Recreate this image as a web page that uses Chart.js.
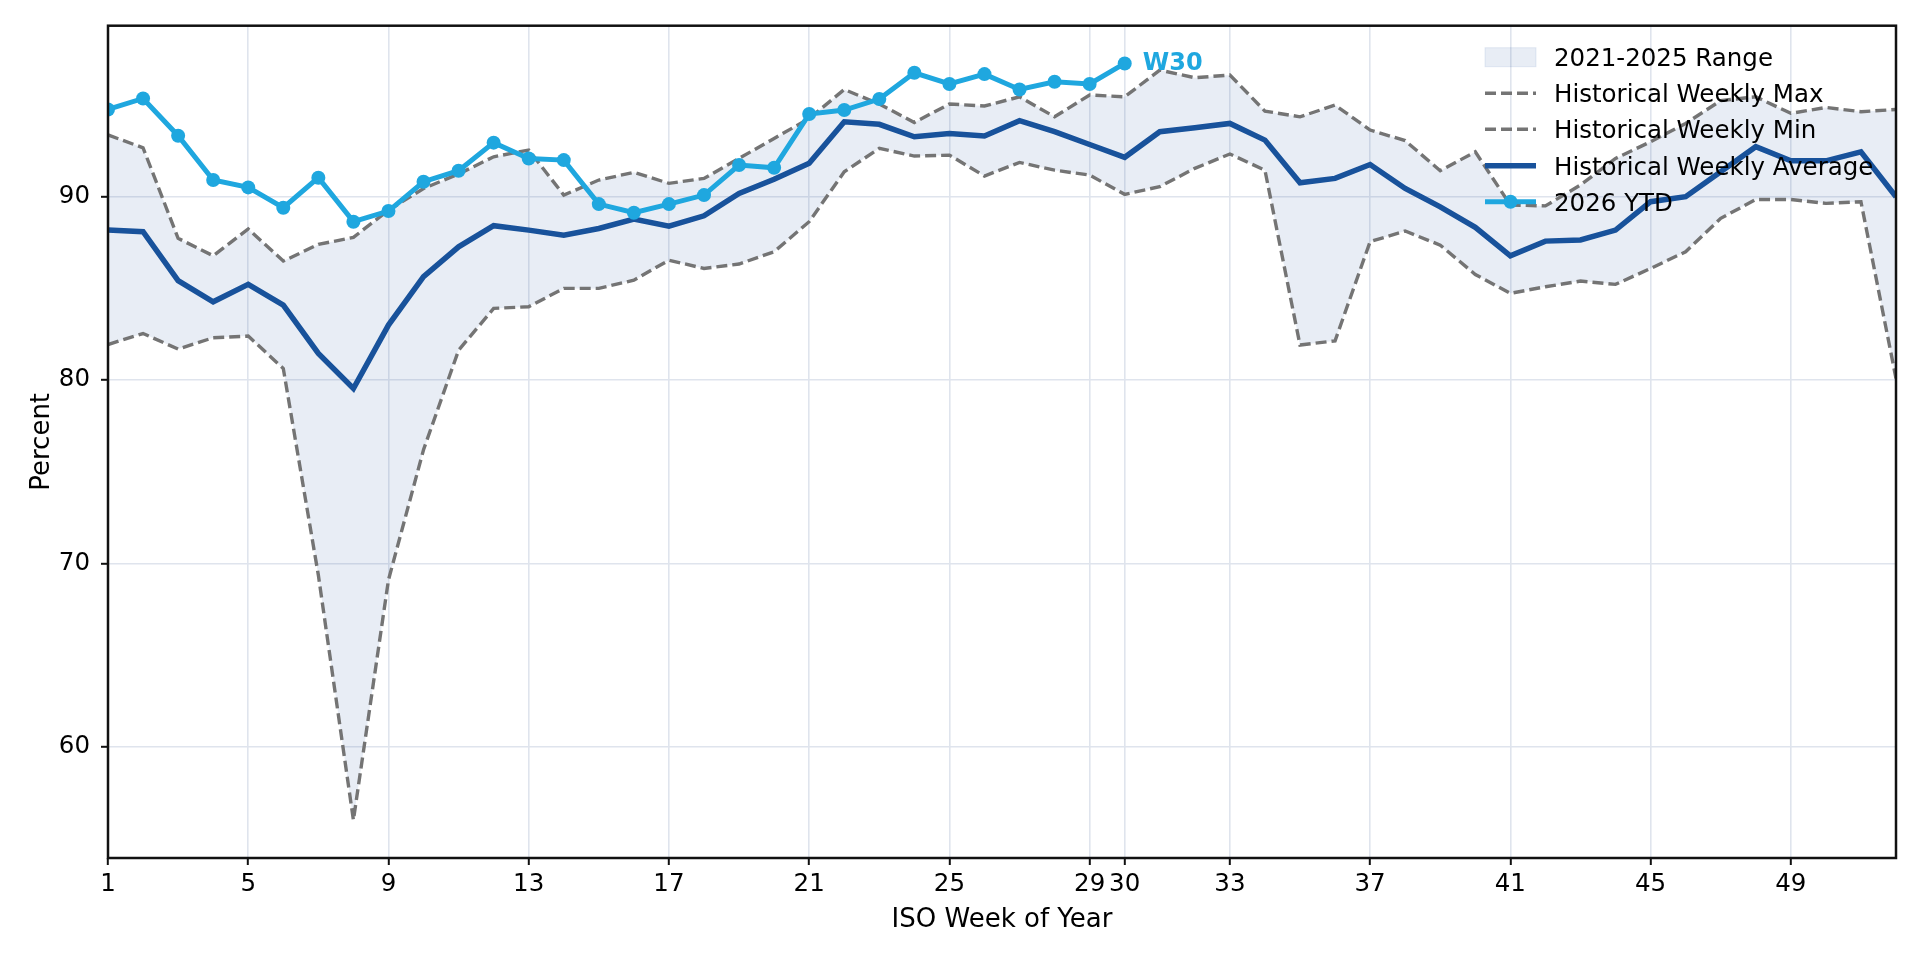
<!DOCTYPE html>
<html>
<head>
<meta charset="utf-8">
<title>Weekly percent vs 2021-2025 range</title>
<script src="https://cdn.jsdelivr.net/npm/chart.js@4.4.1/dist/chart.umd.min.js"></script>
<style>
  html, body { margin: 0; padding: 0; background: #fff; }
  canvas { display: block; }
</style>
</head>
<body>
<canvas id="weeklyChart" width="1920" height="960"></canvas>
<script>
// ISO weeks shown on the x axis
const weeks = [1, 2, 3, 4, 5, 6, 7, 8, 9, 10, 11, 12, 13, 14, 15, 16, 17, 18, 19, 20,
  21, 22, 23, 24, 25, 26, 27, 28, 29, 30, 31, 32, 33, 34, 35, 36, 37, 38, 39, 40,
  41, 42, 43, 44, 45, 46, 47, 48, 49, 50, 51, 52];

const histMax = [93.37, 92.67, 87.73, 86.78, 88.24, 86.49, 87.4, 87.78, 89.27, 90.45,
  91.24, 92.18, 92.55, 90.09, 90.91, 91.33, 90.73, 91.0, 92.09, 93.18,
  94.27, 95.85, 95.06, 94.05, 95.06, 94.95, 95.45, 94.36, 95.55, 95.45,
  96.91, 96.49, 96.64, 94.67, 94.36, 95.0, 93.64, 93.06, 91.42, 92.45,
  89.55, 89.5, 90.64, 92.09, 93.0, 94.0, 95.24, 95.45, 94.55, 94.87,
  94.64, 94.76];

const histMin = [81.94, 82.54, 81.69, 82.31, 82.4, 80.63, 69.36, 56.0, 69.1, 76.2,
  81.63, 83.91, 84.0, 85.0, 85.0, 85.45, 86.54, 86.09, 86.33, 87.0,
  88.64, 91.36, 92.64, 92.22, 92.27, 91.13, 91.87, 91.45, 91.18, 90.13,
  90.55, 91.55, 92.33, 91.45, 81.91, 82.14, 87.55, 88.13, 87.36, 85.76,
  84.73, 85.09, 85.4, 85.22, 86.09, 87.0, 88.82, 89.85, 89.85, 89.64,
  89.73, 80.09];

const histAvg = [88.18, 88.09, 85.42, 84.27, 85.22, 84.09, 81.45, 79.54, 83.0, 85.64,
  87.27, 88.42, 88.18, 87.9, 88.27, 88.78, 88.4, 88.96, 90.18, 90.95,
  91.82, 94.09, 93.95, 93.27, 93.45, 93.31, 94.15, 93.55, 92.85, 92.15,
  93.55, 93.76, 94.0, 93.09, 90.76, 91.0, 91.76, 90.45, 89.45, 88.33,
  86.78, 87.58, 87.64, 88.18, 89.73, 90.0, 91.36, 92.73, 91.96, 91.96,
  92.45, 90.0];

// 2026 year to date, weeks 1..30
const ytd2026 = [94.76, 95.36, 93.33, 90.91, 90.51, 89.4, 91.04, 88.64, 89.22, 90.82,
  91.42, 92.95, 92.09, 92.0, 89.6, 89.13, 89.6, 90.09, 91.73, 91.58,
  94.51, 94.73, 95.33, 96.76, 96.15, 96.69, 95.85, 96.27, 96.15, 97.27];

const xTicks = [1, 5, 9, 13, 17, 21, 25, 29, 30, 33, 37, 41, 45, 49];
const yTicks = [60, 70, 80, 90];

const FONT = '"DejaVu Sans", "Liberation Sans", sans-serif';
const YTD_COLOR = '#1fa7df';
const AVG_COLOR = '#18529b';
const DASH_COLOR = '#747474';
const RANGE_FILL = 'rgba(31, 78, 153, 0.10)';

const pts = (arr) => arr.map((v, i) => ({ x: weeks[i], y: v }));

// frame, W30 label and the legend drawn inside the plot
const overlay = {
  id: 'overlay',
  afterDatasetsDraw(chart) {
    const { ctx, chartArea: a, scales: { x, y } } = chart;
    ctx.save();

    const last = ytd2026.length - 1;
    const px = x.getPixelForValue(weeks[last]);
    const py = y.getPixelForValue(ytd2026[last]);
    ctx.font = 'bold 24px ' + FONT;
    ctx.fillStyle = YTD_COLOR;
    ctx.textAlign = 'left';
    ctx.textBaseline = 'alphabetic';
    ctx.fillText('W' + weeks[last], px + 18, py + 6.5);

    ctx.strokeStyle = '#111';
    ctx.lineWidth = 2.5;
    ctx.strokeRect(a.left, a.top, a.right - a.left, a.bottom - a.top);

    // legend
    const hx0 = a.right - 411, hx1 = a.right - 360, tx = a.right - 342;
    const rows = [a.top + 31.5, a.top + 67.5, a.top + 103.5, a.top + 140, a.top + 176];
    const labels = ['2021-2025 Range', 'Historical Weekly Max', 'Historical Weekly Min',
      'Historical Weekly Average', '2026 YTD'];

    ctx.fillStyle = RANGE_FILL;
    ctx.fillRect(hx0, rows[0] - 9.5, hx1 - hx0, 19);
    ctx.strokeStyle = RANGE_FILL;
    ctx.lineWidth = 1;
    ctx.strokeRect(hx0, rows[0] - 9.5, hx1 - hx0, 19);

    ctx.lineCap = 'butt';
    [1, 2].forEach(r => {
      ctx.beginPath();
      ctx.setLineDash([11, 5]);
      ctx.strokeStyle = DASH_COLOR;
      ctx.lineWidth = 3.4;
      ctx.moveTo(hx0, rows[r]);
      ctx.lineTo(hx1, rows[r]);
      ctx.stroke();
    });
    ctx.setLineDash([]);

    ctx.beginPath();
    ctx.strokeStyle = AVG_COLOR;
    ctx.lineWidth = 5.5;
    ctx.moveTo(hx0, rows[3]);
    ctx.lineTo(hx1, rows[3]);
    ctx.stroke();

    ctx.beginPath();
    ctx.strokeStyle = YTD_COLOR;
    ctx.lineWidth = 5;
    ctx.moveTo(hx0, rows[4]);
    ctx.lineTo(hx1, rows[4]);
    ctx.stroke();
    ctx.beginPath();
    ctx.fillStyle = YTD_COLOR;
    ctx.arc((hx0 + hx1) / 2, rows[4], 7, 0, Math.PI * 2);
    ctx.fill();

    ctx.font = '24.5px ' + FONT;
    ctx.fillStyle = '#000';
    labels.forEach((t, i) => ctx.fillText(t, tx, rows[i] + 8.8));

    ctx.restore();
  }
};

new Chart(document.getElementById('weeklyChart'), {
  type: 'line',
  data: {
    datasets: [
      {
        label: '2026 YTD',
        data: pts(ytd2026),
        borderColor: YTD_COLOR,
        backgroundColor: YTD_COLOR,
        borderWidth: 5,
        pointRadius: 7,
        pointBorderWidth: 0,
        pointBackgroundColor: YTD_COLOR,
        fill: false,
        order: 0
      },
      {
        label: 'Historical Weekly Average',
        data: pts(histAvg),
        borderColor: AVG_COLOR,
        borderWidth: 5.5,
        pointRadius: 0,
        fill: false,
        order: 1
      },
      {
        label: 'Historical Weekly Max',
        data: pts(histMax),
        borderColor: DASH_COLOR,
        borderWidth: 3.4,
        borderDash: [11, 5],
        pointRadius: 0,
        fill: false,
        order: 2
      },
      {
        label: 'Historical Weekly Min',
        data: pts(histMin),
        borderColor: DASH_COLOR,
        borderWidth: 3.4,
        borderDash: [11, 5],
        pointRadius: 0,
        backgroundColor: RANGE_FILL,
        fill: '-1',
        order: 3
      }
    ]
  },
  options: {
    responsive: false,
    animation: false,
    events: [],
    layout: { padding: { left: 0, right: 24, top: 23, bottom: 0 } },
    plugins: {
      legend: { display: false },
      tooltip: { enabled: false },
      filler: { propagate: false }
    },
    scales: {
      x: {
        type: 'linear',
        min: 1,
        max: 52,
        afterBuildTicks: (s) => { s.ticks = xTicks.map(v => ({ value: v })); },
        afterFit: (s) => { s.height = 102; },
        grid: { color: '#dfe4ed', lineWidth: 1.6, tickColor: '#111', tickWidth: 2, tickLength: 7 },
        border: { display: false },
        ticks: { color: '#000', padding: 5, maxRotation: 0, autoSkip: false, font: { family: FONT, size: 24.5 } },
        title: { display: true, text: 'ISO Week of Year', color: '#000', font: { family: FONT, size: 26 }, padding: { top: 0, bottom: 24.5 } }
      },
      y: {
        min: 53.93,
        max: 99.33,
        afterBuildTicks: (s) => { s.ticks = yTicks.map(v => ({ value: v })); },
        afterFit: (s) => { s.width = 108; },
        grid: { color: '#dfe4ed', lineWidth: 1.6, tickColor: '#111', tickWidth: 2, tickLength: 7 },
        border: { display: false },
        ticks: { color: '#000', padding: 11, font: { family: FONT, size: 24.5 } },
        title: { display: true, text: 'Percent', color: '#000', font: { family: FONT, size: 26 }, padding: { top: 27, bottom: 0 } }
      }
    }
  },
  plugins: [overlay]
});
</script>
</body>
</html>
